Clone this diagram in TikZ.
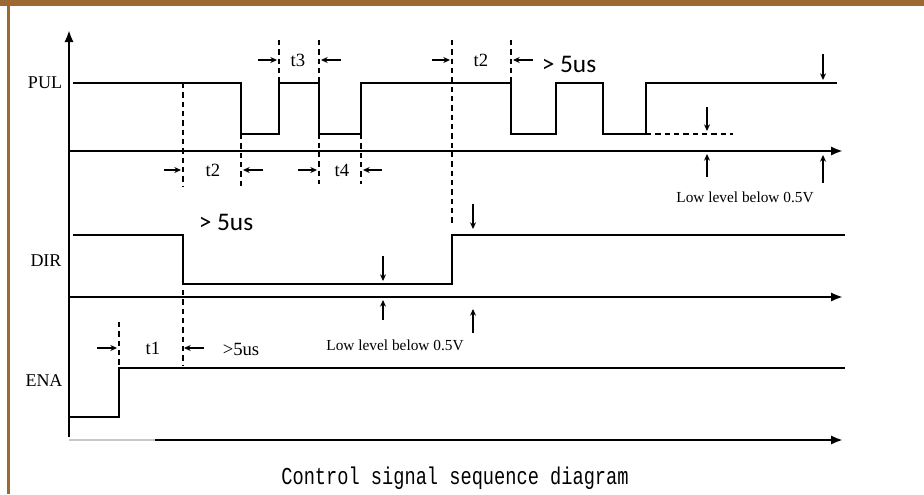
\documentclass[tikz,border=0pt]{standalone}
\usepackage{fontspec}
\setmainfont{Liberation Serif}
\newfontfamily\calfont{Carlito}
\newfontfamily\monofont{Liberation Mono}
\usetikzlibrary{arrows.meta}
\definecolor{framebrown}{HTML}{9C6933}
\definecolor{lightaxis}{HTML}{C8C8C8}
\tikzset{
  signal/.style={line width=1.3pt, line join=miter},
  axisline/.style={line width=1.8pt, -{Latex[length=9pt,width=7pt]}},
  dashline/.style={line width=1pt, dash pattern=on 4pt off 3pt},
  dimarrow/.style={line width=0.8pt, -{Stealth[length=5pt,width=4.5pt]}},
  lvlarrow/.style={line width=0.8pt, -{Stealth[length=5pt,width=4.5pt]}},
  siglabel/.style={font=\fontsize{13.5pt}{15pt}\selectfont, inner sep=0pt},
  tlabel/.style={font=\fontsize{14pt}{16pt}\selectfont, inner sep=0pt},
  biglabel/.style={font=\calfont\fontsize{19pt}{22pt}\selectfont, inner sep=0pt},
  lowlabel/.style={font=\fontsize{11.5pt}{13pt}\selectfont, inner sep=0pt},
}
\begin{document}
\begin{tikzpicture}[x=0.75pt,y=-0.75pt]
\useasboundingbox (0,0) rectangle (924,494);
% frame
\fill[framebrown] (0,0) rectangle (924,6);
\fill[framebrown] (7,0) rectangle (9.5,494);

% axes
\coordinate (vb) at (69,437);
\coordinate (vt) at (69,30);
\draw[axisline] (vb) -- (vt);
\coordinate (pa0) at (69,151);
\coordinate (pa1) at (843,151);
\draw[axisline] (pa0) -- (pa1);
\coordinate (da0) at (69,297);
\coordinate (da1) at (843,297);
\draw[axisline] (da0) -- (da1);
\coordinate (ea0) at (69,440);
\coordinate (eam) at (155,440);
\coordinate (ea1) at (843,440);
\draw[line width=1.8pt, lightaxis] (ea0) -- (eam);
\draw[axisline] (eam) -- (ea1);

% signal labels
\node[siglabel] (pul) at (45,83) {PUL};
\node[siglabel] (dir) at (46,261) {DIR};
\node[siglabel] (ena) at (44,381) {ENA};

% PUL signal
\draw[signal] (73,83) -- (241,83) -- (241,134) -- (279,134) -- (279,83) -- (319,83)
  -- (319,134) -- (361,134) -- (361,83) -- (511,83) -- (511,134) -- (556,134)
  -- (556,83) -- (603,83) -- (603,134) -- (646,134) -- (646,83) -- (837,83);
\draw[dashline] (646,134) -- (733,134);

% DIR signal
\draw[signal] (73,235) -- (183,235) -- (183,284) -- (452,284) -- (452,235) -- (845,235);

% ENA signal
\draw[signal] (70,417) -- (119,417) -- (119,368) -- (845,368);

% dashed timing lines
\draw[dashline] (183,83) -- (183,186);
\draw[dashline] (183,290) -- (183,366);
\draw[dashline] (241,134) -- (241,186);
\draw[dashline] (279,40) -- (279,83);
\draw[dashline] (319,40) -- (319,184);
\draw[dashline] (361,134) -- (361,184);
\draw[dashline] (452,40) -- (452,226);
\draw[dashline] (511,40) -- (511,83);
\draw[dashline] (119,322) -- (119,368);

% t3
\coordinate (t3a) at (258,60); \coordinate (t3b) at (277,60);
\draw[dimarrow] (t3a) -- (t3b);
\node[tlabel] (t3) at (298,60) {t3};
\coordinate (t3c) at (341,60); \coordinate (t3d) at (321,60);
\draw[dimarrow] (t3c) -- (t3d);

% t2 top
\coordinate (t2a) at (432,60); \coordinate (t2b) at (450,60);
\draw[dimarrow] (t2a) -- (t2b);
\node[tlabel] (t2top) at (481,60) {t2};
\coordinate (t2c) at (533,60); \coordinate (t2d) at (513,60);
\draw[dimarrow] (t2c) -- (t2d);
\node[biglabel] (gt1) at (569,64) {> 5us};

% t2 bottom
\coordinate (t2e) at (164,170); \coordinate (t2f) at (181,170);
\draw[dimarrow] (t2e) -- (t2f);
\node[tlabel] (t2bot) at (213,170) {t2};
\coordinate (t2g) at (263,170); \coordinate (t2h) at (243,170);
\draw[dimarrow] (t2g) -- (t2h);

% t4
\coordinate (t4a) at (298,170); \coordinate (t4b) at (317,170);
\draw[dimarrow] (t4a) -- (t4b);
\node[tlabel] (t4) at (342,170) {t4};
\coordinate (t4c) at (382,170); \coordinate (t4d) at (363,170);
\draw[dimarrow] (t4c) -- (t4d);

% PUL level arrows
\coordinate (p1a) at (823,54); \coordinate (p1b) at (823,80);
\draw[lvlarrow] (p1a) -- (p1b);
\coordinate (p2a) at (707,107); \coordinate (p2b) at (707,131);
\draw[lvlarrow] (p2a) -- (p2b);
\coordinate (p3a) at (707,177); \coordinate (p3b) at (707,154);
\draw[lvlarrow] (p3a) -- (p3b);
\coordinate (p4a) at (823,183); \coordinate (p4b) at (823,155);
\draw[lvlarrow] (p4a) -- (p4b);
\node[lowlabel] (low1) at (745,197) {Low level below 0.5V};

% DIR
\node[biglabel] (gt2) at (226,222) {> 5us};
\coordinate (d1a) at (383,256); \coordinate (d1b) at (383,281);
\draw[lvlarrow] (d1a) -- (d1b);
\coordinate (d2a) at (383,320); \coordinate (d2b) at (383,300);
\draw[lvlarrow] (d2a) -- (d2b);
\coordinate (d3a) at (473,204); \coordinate (d3b) at (473,229);
\draw[lvlarrow] (d3a) -- (d3b);
\coordinate (d4a) at (473,333); \coordinate (d4b) at (473,309);
\draw[lvlarrow] (d4a) -- (d4b);
\node[lowlabel] (low2) at (395,345) {Low level below 0.5V};

% ENA t1
\coordinate (t1a) at (97,348); \coordinate (t1b) at (117,348);
\draw[dimarrow] (t1a) -- (t1b);
\node[tlabel] (t1) at (153,348) {t1};
\coordinate (t1c) at (204,348); \coordinate (t1d) at (184,348);
\draw[dimarrow] (t1c) -- (t1d);
\node[tlabel] (gt3) at (241,349) {>5us};

% title
\node[font=\monofont\fontsize{14pt}{16pt}\selectfont, inner sep=0pt] (title) at (455,478)
  {\scalebox{1}[1.3]{Control signal sequence diagram}};
\end{tikzpicture}
\end{document}
